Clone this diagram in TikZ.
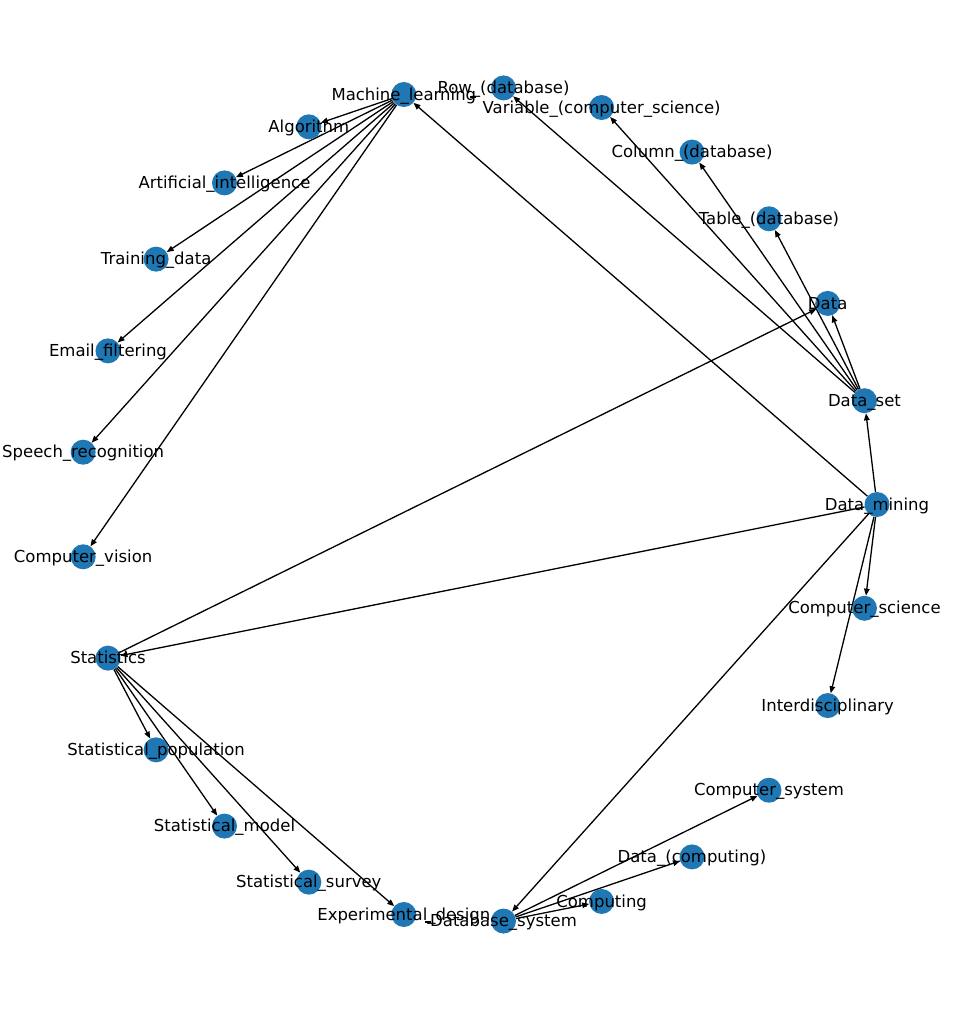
\documentclass[tikz,border=0pt]{standalone}
\usepackage{fontspec}
\setmainfont{DejaVu Sans}
\usetikzlibrary{arrows.meta, backgrounds}
\definecolor{nxblue}{HTML}{1F77B4}

% ring of pages, counter-clockwise from the right
\def\ringnodes{dmin/Data\_mining, dset/Data\_set, data/Data,
  tab/Table\_(database), col/Column\_(database),
  var/Variable\_(computer\_science), row/Row\_(database),
  ml/Machine\_learning, alg/Algorithm, ai/Artificial\_intelligence,
  train/Training\_data, email/Email\_filtering,
  speech/Speech\_recognition, cvis/Computer\_vision, stat/Statistics,
  spop/Statistical\_population, smod/Statistical\_model,
  ssur/Statistical\_survey, expd/Experimental\_design,
  dbs/Database\_system, comp/Computing, dcomp/Data\_(computing),
  csys/Computer\_system, inter/Interdisciplinary,
  cs/Computer\_science}

\begin{document}
\begin{tikzpicture}[
  x=1pt, y=1pt,
  vtx/.style={circle, fill=nxblue, minimum size=25pt, inner sep=0pt},
  lbl/.style={font=\fontsize{16.5}{18}\selectfont, inner sep=0pt,
    text height=0.73em, text depth=0.1em, yshift=-2.5pt},
  edge/.style={-{Triangle[length=7pt,width=5.5pt]}, line width=1.3pt},
  >=Triangle
]
  \useasboundingbox (-478.5,-504.5) rectangle (481.5,504.5);

  % Nodes
  \foreach \name/\txt [count=\k from 0] in \ringnodes {
    \node[vtx] (\name) at ({398.5*cos(\k*14.4)}, {417.4*sin(\k*14.4)}) {};
  }
  % Labels
  \foreach \name/\txt in \ringnodes {
    \node[lbl] (\name-t) at (\name) {\txt};
  }

  % Edges
  \begin{scope}[on background layer]
    \foreach \to in {alg, ai, train, email, speech, cvis}
      \draw[edge] (ml) -- (\to);
    \foreach \to in {ml, dset, cs, inter, stat, dbs}
      \draw[edge] (dmin) -- (\to);
    \foreach \to in {row, var, col, tab, data}
      \draw[edge] (dset) -- (\to);
    \foreach \to in {data, spop, smod, ssur, expd}
      \draw[edge] (stat) -- (\to);
    \foreach \to in {csys, dcomp, comp}
      \draw[edge] (dbs) -- (\to);
  \end{scope}

  % small marks
  \coordinate (mla) at (-8.5,407.5);
  \coordinate (mlb) at (-2.5,407.5);
  \coordinate (dba) at (-53.5,-417.5);
  \coordinate (dbb) at (-47.5,-417.5);
  \draw[line width=1.3pt] (mla) -- (mlb);
  \draw[line width=1.3pt] (dba) -- (dbb);
\end{tikzpicture}
\end{document}
